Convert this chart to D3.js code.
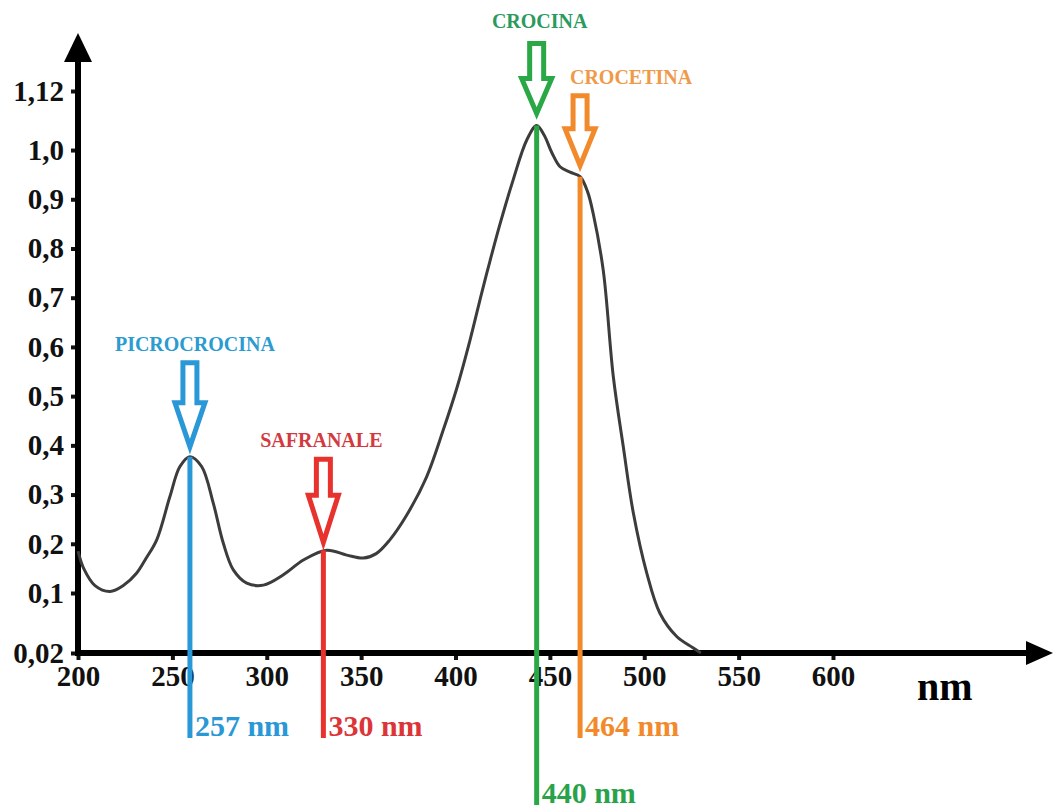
<!DOCTYPE html>
<html>
<head>
<meta charset="utf-8">
<script src="https://cdn.jsdelivr.net/npm/d3@7"></script>
<style>
  body { margin: 0; background: #fff; }
  text { font-family: "Liberation Serif", "Times New Roman", serif; font-weight: bold; }
</style>
</head>
<body>
<div id="chart"></div>
<script>
// absorption spectrum
const wavelengths = [200, 203, 209, 217, 224, 231, 236, 241.7, 248.7, 254, 259.3, 265.5, 271.7, 277, 282.3, 289.4, 298.2, 308.8, 319.4, 331.8, 342.4, 351.2, 358, 365, 374.1, 384.7, 393.5, 400.6, 407.7, 413.9, 418.3, 423.6, 430.6, 437.7, 443, 447, 451, 455.4, 460.7, 466, 470, 473, 478.3, 483.6, 488.9, 494.2, 501.3, 508.3, 517.2, 525.8, 530];
const absorbance = [0.185, 0.15, 0.115, 0.103, 0.115, 0.14, 0.17, 0.208, 0.296, 0.357, 0.377, 0.357, 0.282, 0.201, 0.147, 0.12, 0.116, 0.137, 0.167, 0.187, 0.177, 0.171, 0.18, 0.207, 0.258, 0.336, 0.431, 0.515, 0.614, 0.71, 0.775, 0.85, 0.94, 1.02, 1.05, 1.03, 0.995, 0.966, 0.955, 0.946, 0.915, 0.87, 0.755, 0.54, 0.397, 0.263, 0.141, 0.073, 0.042, 0.027, 0.02];

const xTicks = [200, 250, 300, 350, 400, 450, 500, 550, 600];
const yTicks = [0.02, 0.1, 0.2, 0.3, 0.4, 0.5, 0.6, 0.7, 0.8, 0.9, 1.0, 1.12];

const peakNames = ['PICROCROCINA', 'SAFRANALE', 'CROCINA', 'CROCETINA'];
const peakLabels = ['257 nm', '330 nm', '440 nm', '464 nm'];
const peakPositions = [259.3, 330, 443, 466];
const peakValues = [0.377, 0.187, 1.05, 0.946];

// styles / layout
const lineColors = ['#2a98d6', '#e8322e', '#2aa846', '#f28a2c'];
const nameColors = ['#2b9bd0', '#d23a3f', '#2a9a5e', '#ee9a4a'];
const labelColors = ['#2a98d6', '#dc3538', '#2aa24a', '#f28a2c'];
const arrowLen = [84, 83, 70, 70];
const arrowHead = [44, 47, 35, 37];
const arrowGap = [10, 8, 12, 11];
const nameDx = [5, -2, 3, 51];
const nameGap = [12, 12, 15, 12];
const lineBottom = [738, 738, 805, 738];

const width = 1054, height = 809;
const x0 = 78, y0 = 653;

const svg = d3.select('#chart').append('svg')
  .attr('width', width)
  .attr('height', height);

const x = d3.scaleLinear()
  .domain([200, 600])
  .range([78, 833]);

// bottom tick 0,02 sits on the origin, rest is linear
const y = d3.scaleLinear()
  .domain([0.02, 0.1, 1.12])
  .range([653, 593, 91]);

const fmt = d => String(d).replace('.', ',').replace(/^1$/, '1,0');

// y axis
const yAxis = svg.append('g')
  .attr('transform', `translate(${x0},0)`)
  .call(d3.axisLeft(y).tickValues(yTicks).tickSize(7).tickPadding(7).tickFormat(fmt));
yAxis.select('.domain').remove();
yAxis.selectAll('.tick line').attr('stroke', '#111').attr('stroke-width', 4);
yAxis.selectAll('.tick text')
  .attr('fill', '#111')
  .attr('font-size', 29)
  .attr('font-family', '"Liberation Serif", serif')
  .attr('font-weight', 'bold');

// x axis
const xAxis = svg.append('g')
  .attr('transform', `translate(0,${y0})`)
  .call(d3.axisBottom(x).tickValues(xTicks).tickSize(7).tickPadding(5).tickFormat(d3.format('d')));
xAxis.select('.domain').remove();
xAxis.selectAll('.tick line').attr('stroke', '#111').attr('stroke-width', 4);
xAxis.selectAll('.tick text')
  .attr('fill', '#111')
  .attr('font-size', 29)
  .attr('font-family', '"Liberation Serif", serif')
  .attr('font-weight', 'bold');

// axis lines with arrow heads
svg.append('line')
  .attr('x1', x0).attr('y1', y0 + 3)
  .attr('x2', x0).attr('y2', 55)
  .attr('stroke', '#000').attr('stroke-width', 6);
svg.append('path')
  .attr('d', `M${x0},33 L${x0 + 14},62 L${x0 - 14},62 Z`)
  .attr('fill', '#000');
svg.append('line')
  .attr('x1', x0 - 3).attr('y1', y0)
  .attr('x2', 1030).attr('y2', y0)
  .attr('stroke', '#000').attr('stroke-width', 6);
svg.append('path')
  .attr('d', `M1053,${y0} L1026,${y0 - 12} L1026,${y0 + 12} Z`)
  .attr('fill', '#000');

svg.append('text')
  .attr('x', 917)
  .attr('y', 700)
  .attr('font-size', 40)
  .attr('fill', '#000')
  .text('nm');

// spectrum
const line = d3.line()
  .x((d, i) => x(wavelengths[i]))
  .y(d => y(d))
  .curve(d3.curveCatmullRom);

svg.append('path')
  .datum(absorbance)
  .attr('fill', 'none')
  .attr('stroke', '#3c3c3c')
  .attr('stroke-width', 3)
  .attr('stroke-linejoin', 'round')
  .attr('d', line);

// peak markers
peakNames.forEach((name, i) => {
  const cx = x(peakPositions[i]);
  const top = y(peakValues[i]);

  svg.append('line')
    .attr('x1', cx).attr('y1', top)
    .attr('x2', cx).attr('y2', lineBottom[i])
    .attr('stroke', lineColors[i])
    .attr('stroke-width', 5);

  svg.append('text')
    .attr('x', cx + 5)
    .attr('y', lineBottom[i] - 2)
    .attr('font-size', 30)
    .attr('fill', labelColors[i])
    .text(peakLabels[i]);

  // hollow block arrow
  const tip = top - arrowGap[i];
  const head = tip - arrowHead[i];
  const start = tip - arrowLen[i];
  const sw = 7, hw = 15;
  svg.append('path')
    .attr('d', `M${cx - sw},${start} L${cx + sw},${start} L${cx + sw},${head} L${cx + hw},${head} L${cx},${tip} L${cx - hw},${head} L${cx - sw},${head} Z`)
    .attr('fill', '#fff')
    .attr('stroke', lineColors[i])
    .attr('stroke-width', 5)
    .attr('stroke-linejoin', 'miter');

  svg.append('text')
    .attr('x', cx + nameDx[i])
    .attr('y', start - nameGap[i])
    .attr('text-anchor', 'middle')
    .attr('font-size', 20)
    .attr('fill', nameColors[i])
    .text(name);
});
</script>
</body>
</html>
